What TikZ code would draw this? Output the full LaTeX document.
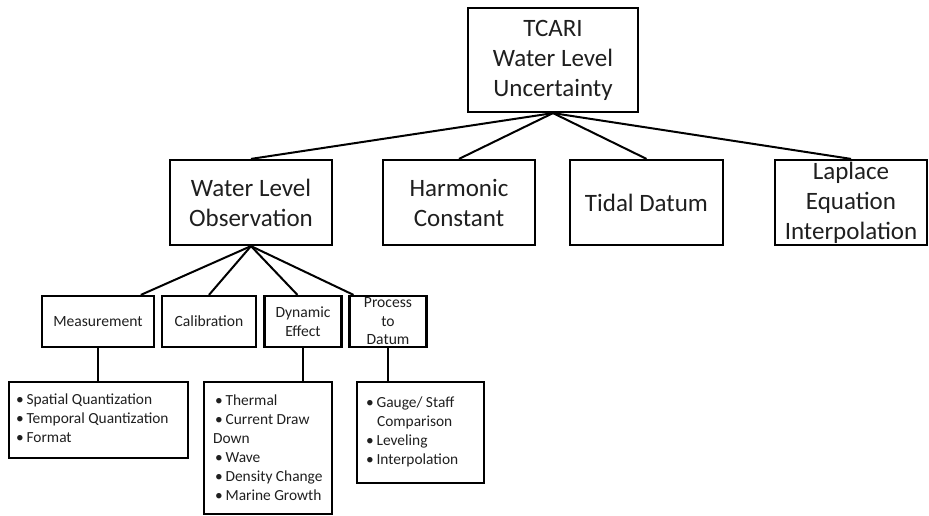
\documentclass[tikz,border=0pt]{standalone}
\usepackage{fontspec}
\setmainfont{Carlito}
\usetikzlibrary{calc}
\newcommand\mybul{\makebox[10.5pt][l]{\textbullet}}
\begin{document}
\begin{tikzpicture}[x=1pt,y=-1pt,
  boxA/.style={draw=black, line width=2.2pt, inner sep=0pt},
  txtA/.style={align=center, inner sep=0pt, text=black!88, font=\fontsize{25}{30}\selectfont},
  txtB/.style={align=center, inner sep=0pt, text=black!88, font=\fontsize{15.6}{18.5}\selectfont},
  txtC/.style={align=left, anchor=base west, inner sep=0pt, text=black!88, font=\fontsize{15.4}{19}\selectfont},
  link/.style={draw=black, line width=2pt}]
\useasboundingbox (0,0) rectangle (929,516);
% top
\node[boxA, minimum width=170pt, minimum height=104pt] (top) at (553,60) {};
\node[txtA] (topT) at (top.center) {TCARI\\Water Level\\Uncertainty};
% row 2
\node[boxA, minimum width=162pt, minimum height=85pt] (wlo) at (251,202.5) {};
\node[txtA] (wloT) at (wlo.center) {Water Level\\Observation};
\node[boxA, minimum width=152pt, minimum height=85pt] (harm) at (459,202.5) {};
\node[txtA] (harmT) at (harm.center) {Harmonic\\Constant};
\node[boxA, minimum width=153pt, minimum height=85pt] (tidal) at (646.5,202.5) {};
\node[txtA] (tidalT) at (tidal.center) {Tidal Datum};
\node[boxA, minimum width=152pt, minimum height=85pt] (lap) at (851,202.5) {};
\node[txtA] (lapT) at (lap.center) {Laplace\\Equation\\Interpolation};
% row 3
\node[boxA, minimum width=112pt, minimum height=51pt] (meas) at (98,321.5) {};
\node[txtB] (measT) at (meas.center) {Measurement};
\node[boxA, minimum width=94pt, minimum height=51pt] (cal) at (209,321.5) {};
\node[txtB] (calT) at (cal.center) {Calibration};
\node[boxA, minimum width=77pt, minimum height=51pt] (dyn) at (303,321.5) {};
\node[txtB] (dynT) at (dyn.center) {Dynamic\\Effect};
\node[boxA, minimum width=77pt, minimum height=51pt] (proc) at (388,321.5) {};
\node[txtB] (procT) at (proc.center) {Process\\to\\Datum};
% row 4 (base anchor = baseline of the last line)
\node[boxA, minimum width=179pt, minimum height=76pt] (b1) at (98.5,420) {};
\node[txtC] (b1T) at ($(b1.north west)+(8,62)$) {\mybul Spatial Quantization\\\mybul Temporal Quantization\\\mybul Format};
\node[boxA, minimum width=128pt, minimum height=132pt] (b2) at (268,448) {};
\node[txtC] (b2T) at ($(b2.north west)+(12,120)$) {\mybul Thermal\\\mybul Current Draw\\\hspace{-2pt}Down\\\mybul Wave\\\mybul Density Change\\\mybul Marine Growth};
\node[boxA, minimum width=127pt, minimum height=101pt] (b3) at (420.5,432.5) {};
\node[txtC] (b3T) at ($(b3.north west)+(10,84)$) {\mybul Gauge/ Staff\\\hspace{11pt}Comparison\\\mybul Leveling\\\mybul Interpolation};
% connectors
\draw[link] (top.south) -- (wlo.north);
\draw[link] (top.south) -- (harm.north);
\draw[link] (top.south) -- (tidal.north);
\draw[link] (top.south) -- (lap.north);
\draw[link] (wlo.south) -- ($(meas.north west)!0.875!(meas.north east)$);
\draw[link] (wlo.south) -- (cal.north);
\draw[link] (wlo.south) -- ($(dyn.north west)!0.43!(dyn.north east)$);
\draw[link] (wlo.south) -- ($(proc.north west)!0.065!(proc.north east)$);
\draw[link] (meas.south) -- (meas.south |- b1.north);
\draw[link] (dyn.south) -- (dyn.south |- b2.north);
\draw[link] (proc.south) -- (proc.south |- b3.north);
\end{tikzpicture}
\end{document}
